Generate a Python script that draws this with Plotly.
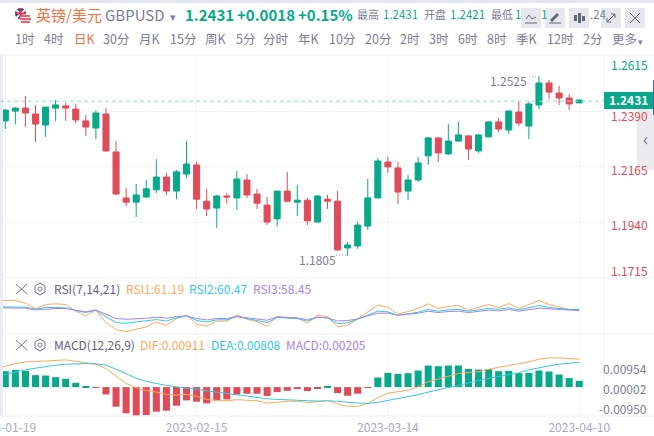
import plotly.graph_objects as go
import pandas as pd

# daily GBPUSD candles
dates = [d.strftime("%Y-%m-%d") for d in pd.bdate_range("2023-01-19", periods=58)]
# indicators also have a point one day before the first visible candle
prior_date = "2023-01-18"
opens = [1.2351, 1.2391, 1.2403, 1.2379, 1.2334, 1.2403, 1.2412, 1.2399, 1.2351, 1.2322,
         1.2379, 1.2225, 1.2038, 1.2021, 1.2042, 1.2071, 1.2123, 1.2066, 1.2135, 1.2172,
         1.2025, 1.1997, 1.2046, 1.2038, 1.2111, 1.2054, 1.2009, 1.1953, 1.2066, 1.2021,
         1.2029, 1.1940, 1.2033, 1.2025, 1.1835, 1.1843, 1.1924, 1.2038, 1.2184, 1.2160,
         1.2066, 1.2111, 1.2209, 1.2282, 1.2217, 1.2269, 1.2290, 1.2229, 1.2286, 1.2347,
         1.2314, 1.2387, 1.2330, 1.2416, 1.2505, 1.2464, 1.2444, 1.2424]
highs = [1.2399, 1.2407, 1.2452, 1.2416, 1.2407, 1.2436, 1.2424, 1.2420, 1.2375, 1.2395,
         1.2403, 1.2269, 1.2079, 1.2095, 1.2111, 1.2196, 1.2140, 1.2152, 1.2269, 1.2184,
         1.2075, 1.2050, 1.2058, 1.2148, 1.2135, 1.2075, 1.2042, 1.2066, 1.2144, 1.2091,
         1.2038, 1.2050, 1.2050, 1.2066, 1.1859, 1.1940, 1.2115, 1.2200, 1.2205, 1.2184,
         1.2131, 1.2205, 1.2286, 1.2286, 1.2338, 1.2347, 1.2294, 1.2298, 1.2351, 1.2363,
         1.2395, 1.2428, 1.2428, 1.2531, 1.2517, 1.2493, 1.2460, 1.2436]
lows = [1.2318, 1.2338, 1.2326, 1.2265, 1.2286, 1.2351, 1.2351, 1.2342, 1.2290, 1.2277,
        1.2225, 1.2050, 1.2005, 1.1961, 1.2038, 1.2058, 1.2050, 1.2033, 1.2119, 1.1993,
        1.1965, 1.1916, 1.2017, 1.1989, 1.2038, 1.1993, 1.1928, 1.1924, 1.2021, 1.1965,
        1.1928, 1.1940, 1.1993, 1.1823, 1.1802, 1.1831, 1.1908, 1.2038, 1.2140, 1.2013,
        1.2029, 1.2103, 1.2172, 1.2184, 1.2213, 1.2265, 1.2192, 1.2221, 1.2286, 1.2306,
        1.2298, 1.2330, 1.2277, 1.2399, 1.2440, 1.2416, 1.2395, 1.2424]
closes = [1.2395, 1.2403, 1.2383, 1.2338, 1.2407, 1.2416, 1.2403, 1.2355, 1.2326, 1.2383,
          1.2229, 1.2054, 1.2021, 1.2050, 1.2075, 1.2123, 1.2066, 1.2144, 1.2176, 1.2033,
          1.1993, 1.2046, 1.2042, 1.2115, 1.2050, 1.2017, 1.1940, 1.2066, 1.2025, 1.2029,
          1.1945, 1.2046, 1.2025, 1.1827, 1.1847, 1.1928, 1.2038, 1.2188, 1.2164, 1.2062,
          1.2111, 1.2180, 1.2282, 1.2221, 1.2269, 1.2294, 1.2237, 1.2294, 1.2347, 1.2318,
          1.2391, 1.2342, 1.2420, 1.2505, 1.2468, 1.2444, 1.2420, 1.2436]

rsi1 = [76.9, 76.8, 77.4, 72.4, 62.4, 69.9, 71.2, 69.9, 57.4, 48.7, 59.3, 36.2, 23.1, 19.3, 23.1, 28.1,
        37.4, 31.2, 43.7, 49.9, 33.1, 29.9, 38.7, 38.7, 50.6, 42.4, 38.1, 28.7, 48.1, 44.9, 44.9,
        34.9, 49.9, 47.4, 28.1, 31.2, 43.1, 56.2, 68.7, 64.9, 51.8, 56.8, 62.4, 71.2, 62.4, 66.2,
        68.1, 59.3, 64.9, 69.9, 64.3, 71.8, 62.4, 69.9, 77.4, 69.9, 65.6, 60.6, 61.19]
rsi2 = [65.6, 65.6, 66.2, 64.9, 61.2, 64.3, 64.3, 63.7, 58.7, 54.9, 59.3, 46.8, 36.2, 34.9, 37.4, 39.3,
        41.8, 39.3, 44.9, 48.7, 40.0, 37.4, 41.2, 41.2, 47.4, 43.7, 40.6, 36.2, 45.6, 44.3, 43.7,
        39.3, 46.2, 44.9, 34.3, 35.6, 42.4, 49.9, 57.4, 56.2, 49.9, 52.4, 55.6, 60.6, 57.4, 59.9,
        60.6, 57.4, 60.6, 62.4, 61.2, 63.7, 59.9, 63.7, 68.1, 64.3, 62.4, 60.6, 60.47]
rsi3 = [63.7, 63.7, 64.3, 63.1, 59.9, 61.8, 62.4, 62.4, 59.9, 56.2, 59.9, 51.2, 43.7, 42.4, 43.1, 44.3,
        46.2, 44.3, 47.4, 48.7, 43.7, 41.2, 43.7, 43.7, 47.4, 44.9, 43.1, 40.6, 46.8, 45.6, 44.9,
        41.8, 46.2, 44.9, 39.3, 40.0, 43.1, 48.7, 53.7, 53.7, 49.9, 51.8, 53.7, 57.4, 54.9, 56.8,
        57.4, 54.9, 56.8, 59.3, 58.1, 60.6, 57.4, 59.9, 63.1, 61.8, 60.6, 59.3, 58.45]

macd_hist = [.00518, .00562, .00529, .00389, .00378, .00324, .00270, .00140, .00022, -.00011,
             -.00238, -.00637, -.00853, -.00929, -.00907, -.00799, -.00767, -.00605, -.00432, -.00475,
             -.00529, -.00432, -.00400, -.00238, -.00216, -.00216, -.00292, -.00162, -.00119, -.00065,
             -.00130, -.00032, .00032, -.00194, -.00281, -.00216, -.00022, .00313, .00464, .00432,
             .00454, .00540, .00702, .00680, .00702, .00702, .00594, .00572, .00583, .00518,
             .00529, .00454, .00464, .00540, .00508, .00410, .00292, .00205]
dif = [.00560, .00680, .00767, .00821, .00832, .00853, .00886, .00886, .00842, .00788, .00745,
       .00605, .00356, .00119, -.00022, -.00108, -.00162, -.00238, -.00259, -.00238, -.00302,
       -.00400, -.00432, -.00443, -.00410, -.00432, -.00443, -.00518, -.00486, -.00464, -.00464,
       -.00497, -.00475, -.00443, -.00551, -.00626, -.00626, -.00529, -.00346, -.00194, -.00151,
       -.00097, .00011, .00173, .00259, .00356, .00443, .00475, .00497, .00583, .00637,
       .00713, .00745, .00821, .00907, .00950, .00950, .00929, .00911]
dea = [.00340, .00421, .00497, .00562, .00616, .00670, .00713, .00745, .00767, .00767, .00756,
       .00713, .00583, .00443, .00292, .00184, .00108, .00054, .00011, -.00032, -.00076,
       -.00130, -.00173, -.00216, -.00259, -.00302, -.00335, -.00378, -.00400, -.00421, -.00432,
       -.00443, -.00454, -.00443, -.00464, -.00497, -.00518, -.00529, -.00497, -.00432, -.00378,
       -.00324, -.00248, -.00162, -.00086, 0.0, .00076, .00140, .00216, .00281, .00346,
       .00410, .00464, .00562, .00637, .00691, .00745, .00788, .00808]

date_ticks = ["2023-01-19", "2023-02-15", "2023-03-14", "2023-04-10"]
price_ticks = [1.2390, 1.2165, 1.1940]
last_price = 1.2431

GREEN = "#08a98b"
RED = "#de4c5a"
ORANGE = "#ffa95c"
CYAN = "#36c9de"
PURPLE = "#a685ea"
GRID = "#f3f4f6"
GREY = "#7b8094"
W, H = 654, 436
CJK = "Noto Sans CJK SC"
line_dates = [prior_date] + dates


def px(x):
    return x / W


def py(y):
    return 1 - y / H


fig = go.Figure()
fig.add_trace(go.Candlestick(x=dates, open=opens, high=highs, low=lows, close=closes, whiskerwidth=0,
                             increasing=dict(line=dict(color=GREEN, width=1), fillcolor=GREEN),
                             decreasing=dict(line=dict(color=RED, width=1), fillcolor=RED),
                             xaxis="x", yaxis="y"))
for vals, color in [(rsi1, ORANGE), (rsi2, CYAN), (rsi3, PURPLE)]:
    fig.add_trace(go.Scatter(x=line_dates, y=vals, mode="lines", line=dict(color=color, width=1), xaxis="x", yaxis="y2"))
fig.add_trace(go.Bar(x=dates, y=macd_hist, marker_color=[GREEN if v >= 0 else RED for v in macd_hist],
                     marker_line=dict(width=0), xaxis="x", yaxis="y3"))
for vals, color in [(dif, ORANGE), (dea, CYAN)]:
    fig.add_trace(go.Scatter(x=line_dates, y=vals, mode="lines", line=dict(color=color, width=1), xaxis="x", yaxis="y3"))

fig.update_layout(
    width=W, height=H, autosize=False, margin=dict(l=0, r=0, t=0, b=0), showlegend=False,
    paper_bgcolor="#ffffff", plot_bgcolor="#ffffff", bargap=0.3, boxgap=0.2, boxgroupgap=0.25,
    font=dict(family=CJK, color=GREY, size=12),
    xaxis=dict(type="category", categoryorder="array", categoryarray=line_dates, domain=[0, px(604)], range=[0.474, 60.46],
               anchor="y3", rangeslider=dict(visible=False),
               tickmode="array", tickvals=date_ticks, ticktext=date_ticks, showgrid=True, gridcolor=GRID, gridwidth=1,
               tickfont=dict(size=12, color="#a8acbc"), ticklen=0, ticklabelstandoff=3, showline=False, zeroline=False, automargin=False),
    # price panel: 1.2390 sits on y=111.3, 0.0225 per 55.4 px
    yaxis=dict(domain=[py(278), py(55)], range=[1.239 - (278 - 111.3) / 2462, 1.239 + (111.3 - 55) / 2462],
               tickvals=price_ticks, showticklabels=False, gridcolor=GRID, zeroline=False, automargin=False),
    yaxis2=dict(domain=[py(334), py(278)], range=[14.9, 119.3], showticklabels=False, showgrid=False, zeroline=False, automargin=False),
    yaxis3=dict(domain=[py(416), py(334)], range=[-0.0094, 0.01728], showticklabels=False, showgrid=False, zeroline=False, automargin=False),
)


def seg(x0, y0, x1, y1, color="#70758a", width=1):
    return dict(type="line", xref="paper", yref="paper", x0=px(x0), x1=px(x1), y0=py(y0), y1=py(y1), line=dict(color=color, width=width))


def box(x0, y0, x1, y1, color):
    return dict(type="rect", xref="paper", yref="paper", x0=px(x0), x1=px(x1), y0=py(y1), y1=py(y0), fillcolor=color, line_width=0)


def path(points, color="#70758a", width=1, fill=None):
    d = "M" + " L".join(f"{px(x):.5f},{py(y):.5f}" for x, y in points)
    s = dict(type="path", xref="paper", yref="paper", path=d, line=dict(color=color, width=width))
    if fill:
        s["path"] = d + " Z"
        s["fillcolor"] = fill
    return s


SEP = "#eff0f3"
shapes = [
    box(0, 0, 654, 3, "#e4e7ec"),
    box(0, 55, 3, 416, "#e9ebf2"),
    seg(0, 55, 654, 55, SEP), seg(0, 278, 654, 278, SEP), seg(0, 334, 654, 334, SEP), seg(0, 416, 654, 416, SEP),
    seg(604, 55, 604, 416, SEP),
    # last price line and its box
    dict(type="line", xref="paper", yref="y", x0=0, x1=px(604), y0=last_price, y1=last_price,
         line=dict(color="#8fe0cf", width=1, dash="4px,3px")),
    box(637, 108, 654, 170, "#ececef"),
    box(604, 92, 653, 109, GREEN),
    box(653, 80, 654, 115, "#2c6db4"),
]
# header buttons with their icons
for x0 in [521, 545, 569, 601, 625]:
    shapes.append(box(x0, 8, x0 + 20, 28, "#e6e8ee"))
ICON = "#62677b"
shapes += [
    path([(526, 19), (529, 15), (532, 19), (536, 17)], ICON, 1), seg(525, 23, 537, 23, ICON, 1),
    seg(551, 21, 558, 14, ICON, 3), seg(549, 23, 561, 23, ICON, 1),
    box(574, 15, 577, 21, ICON), box(578, 13, 581, 23, ICON), box(582, 16, 585, 21, ICON),
    seg(607, 22, 615, 14, ICON, 1), path([(611, 14), (615, 14), (615, 18)], ICON, 1), path([(607, 18), (607, 22), (611, 22)], ICON, 1),
    seg(630, 13, 640, 23, ICON, 1), seg(640, 13, 630, 23, ICON, 1),
]
# close crosses and settings hexagons on the indicator rows
for y0 in [284, 340]:
    shapes += [seg(16, y0, 27, y0 + 10), seg(27, y0, 16, y0 + 10)]
    cy = y0 + 5
    shapes.append(path([(40, cy - 6), (45, cy - 3), (45, cy + 3), (40, cy + 6), (35, cy + 3), (35, cy - 3), (40, cy - 6)]))
    shapes.append(dict(type="circle", xref="paper", yref="paper", x0=px(38), x1=px(42), y0=py(cy + 2), y1=py(cy - 2),
                       line=dict(color="#70758a", width=1)))
# flag
shapes += [
    dict(type="circle", xref="paper", yref="paper", x0=px(15), x1=px(26), y0=py(19), y1=py(8), fillcolor="#2f3f86", line_width=0),
    seg(16, 10, 25, 18, "#f4f4f6", 2), seg(25, 10, 16, 18, "#f4f4f6", 2), seg(20.5, 8, 20.5, 19, "#d9374a", 2), seg(15, 13.5, 26, 13.5, "#d9374a", 2),
    dict(type="circle", xref="paper", yref="paper", x0=px(20), x1=px(31), y0=py(24), y1=py(14), fillcolor="#f3e4e6", line_width=0),
    seg(21, 16, 30, 16, "#d9404f", 1.5), seg(20, 19, 31, 19, "#d9404f", 1.5), seg(21, 22, 30, 22, "#d9404f", 1.5),
]
# small dotted leaders next to the high and low labels
shapes += [seg(529, 77, 540, 77, "#9a9eae", 1), seg(336, 255, 348, 255, "#9a9eae", 1)]
shapes[-2]["line"]["dash"] = "1px,2px"
shapes[-1]["line"]["dash"] = "1px,2px"
fig.update_layout(shapes=shapes)


def label(text, x, y, color=GREY, size=12, anchor="left", weight=None):
    fig.add_annotation(text=f"<b>{text}</b>" if weight else text, x=px(x), y=py(y), xref="paper", yref="paper", showarrow=False,
                       xanchor=anchor, yanchor="middle", font=dict(family=CJK, size=size, color=color), borderpad=0, borderwidth=0)


label("英镑/美元", 36, 15, "#f4703f", 15)
label("GBPUSD", 105, 15, GREY, 15)
label("▾", 170, 16, GREY, 11)
label("1.2431", 185, 15, GREEN, 15, weight=True)
label("+0.0018", 237, 15, GREEN, 15, weight=True)
label("+0.15%", 298, 15, GREEN, 15, weight=True)
label("最高", 357, 14, GREY, 11)
label("1.2431", 383, 14, GREEN, 11.5)
label("开盘", 424, 14, GREY, 11)
label("1.2421", 450, 14, GREEN, 11.5)
label("最低", 491, 14, GREY, 11)
label("1", 515, 14, GREEN, 11.5)
label("1", 541, 14, GREEN, 11.5)
label(".24", 590, 14, GREY, 11.5)

periods = ["1时", "4时", "日K", "30分", "月K", "15分", "周K", "5分", "分时", "年K", "10分", "20分", "2时", "3时", "6时", "8时", "季K", "12时", "2分", "更多"]
period_x = [25, 54, 85, 116, 150, 183, 216, 245, 276, 309, 342, 378, 410, 439, 468, 497, 527, 560, 592, 624]
for p, x in zip(periods, period_x):
    label(p, x, 39, "#f4703f" if p == "日K" else GREY, 12.5, anchor="center")
label("▾", 638, 41, GREY, 9)

label("1.2615", 611, 65, GREEN, 12)
label("1.2390", 611, 115, RED, 12)
label("1.2165", 611, 169, RED, 12)
label("1.1940", 611, 225, RED, 12)
label("1.1715", 611, 270, RED, 12)
label("1.2431", 628, 100, "#ffffff", 12, anchor="center", weight=True)
label("‹", 645, 138, GREY, 18, anchor="center")

label("1.2525", 490, 81, GREY, 12)
label("1.1805", 299, 259, GREY, 12)

label("RSI(7,14,21)", 54, 288, "#5f6478", 12)
label("RSI1:61.19", 126, 288, ORANGE, 12)
label("RSI2:60.47", 189, 288, CYAN, 12)
label("RSI3:58.45", 253, 288, PURPLE, 12)
label("MACD(12,26,9)", 54, 344, "#5f6478", 12)
label("DIF:0.00911", 140, 344, ORANGE, 12)
label("DEA:0.00808", 211, 344, CYAN, 12)
label("MACD:0.00205", 286, 344, PURPLE, 12)
label("0.00954", 647, 368, GREY, 12, anchor="right")
label("0.00002", 647, 388, GREY, 12, anchor="right")
label("-0.00950", 647, 408, GREY, 12, anchor="right")

fig.write_html("out.html", config={"displayModeBar": False},
               post_script="document.body.style.margin='0';document.body.style.overflow='hidden';")
